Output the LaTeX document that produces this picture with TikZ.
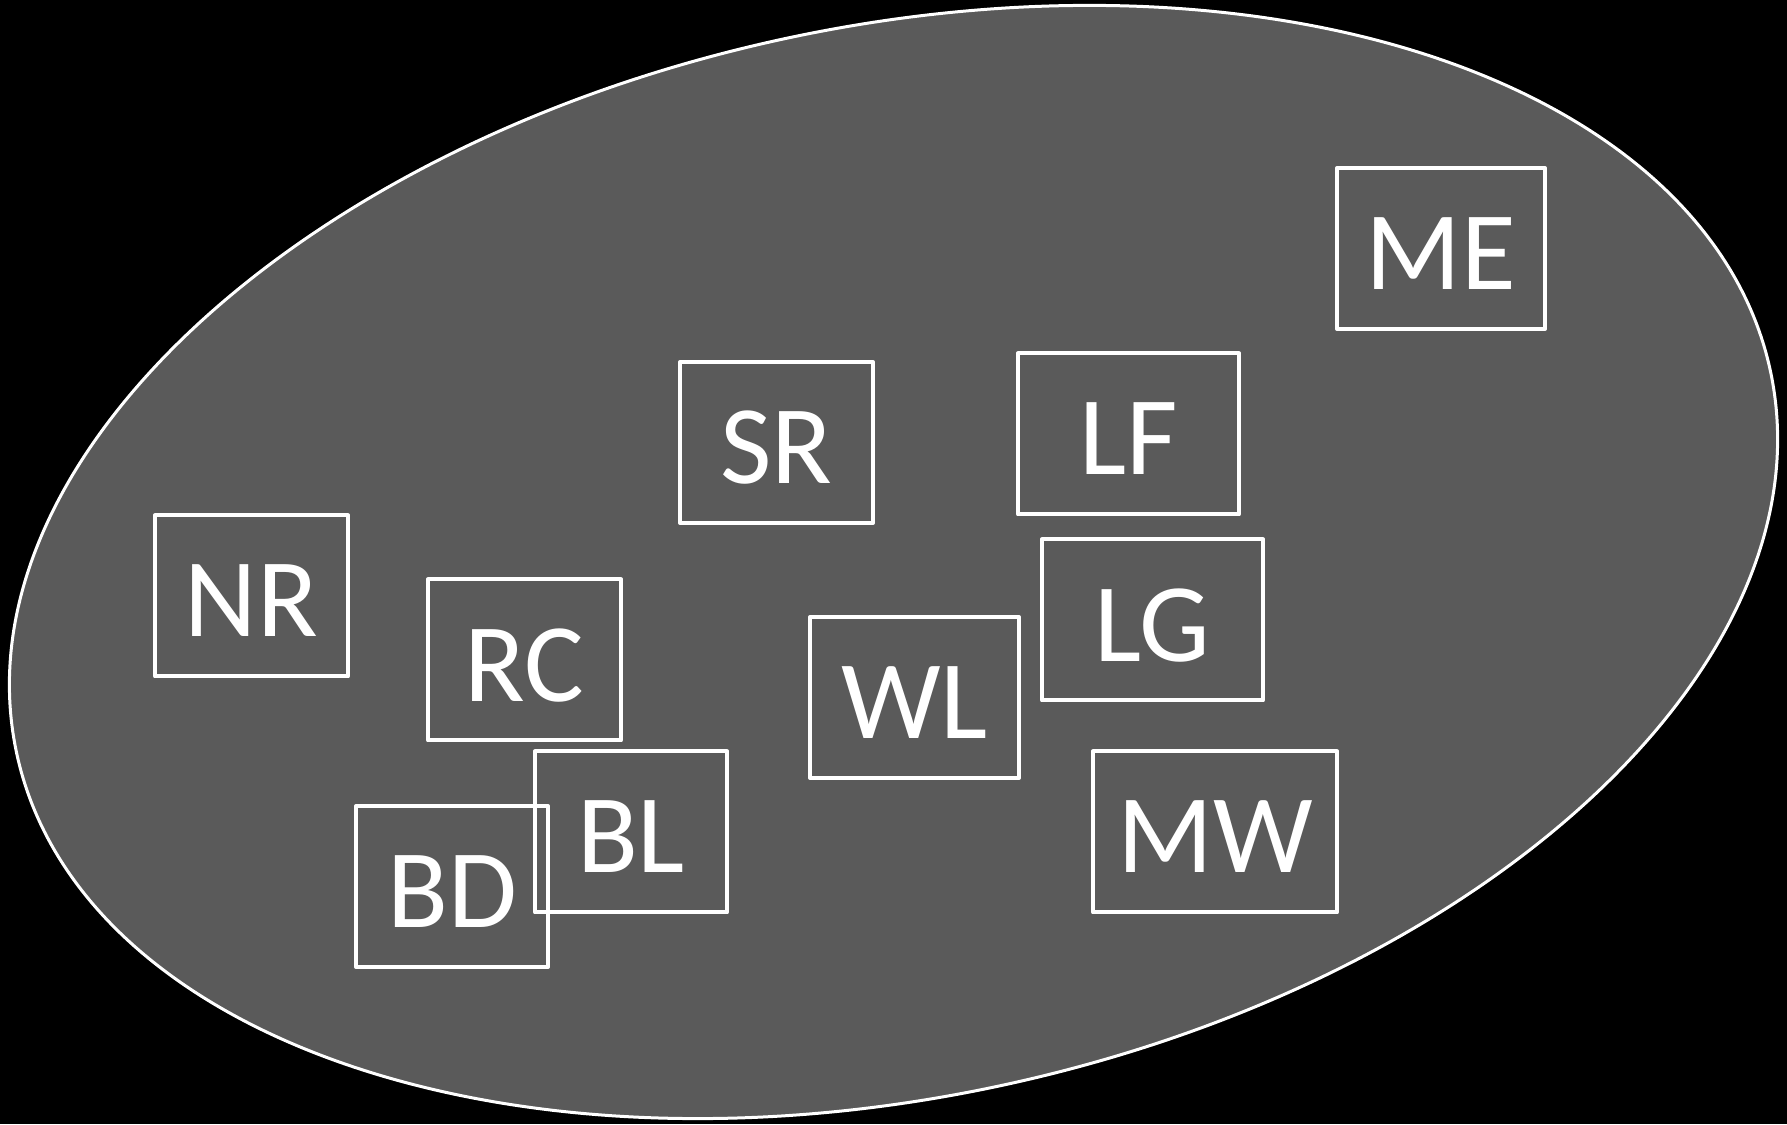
\documentclass[tikz,border=0pt]{standalone}
\usepackage{fontspec}
\setmainfont{Carlito}
\definecolor{fillgray}{HTML}{5A5A5A}
\tikzset{
  lbox/.style={draw=white, line width=2pt, line join=round, inner sep=0pt,
    text=white, font=\fontsize{56}{66}\selectfont, minimum height=80.5pt}
}
\newcommand{\bx}[5]{\node[lbox, minimum width={#4*0.5pt}] (#1) at (#2,{1124-#3}) {\raisebox{-2.5pt}[\height][0pt]{#5}};}
\begin{document}
\begin{tikzpicture}[x=0.5pt,y=0.5pt]
\useasboundingbox (0,0) rectangle (1787,1124);
\fill[black] (0,0) rectangle (1787,1124);
\draw[white, fill=fillgray, line width=1.5pt, rotate around={12.4:(893.5,562)}] (893.5,562) ellipse [x radius=897.5, y radius=534.5];
\bx{ME}{1441}{248.5}{208}{ME}
\bx{SR}{776.5}{442.5}{193}{SR}
\bx{LF}{1128.5}{434}{221}{LF}
\bx{NR}{251.5}{596}{193}{NR}
\bx{RC}{524.5}{660}{193}{RC}
\bx{LG}{1152.5}{620}{221}{LG}
\bx{WL}{914.5}{697.5}{209}{WL}
\bx{BL}{631}{832}{192}{BL}
\bx{BD}{452}{886.5}{192}{BD}
\bx{MW}{1215}{832}{244}{MW}
\end{tikzpicture}
\end{document}
